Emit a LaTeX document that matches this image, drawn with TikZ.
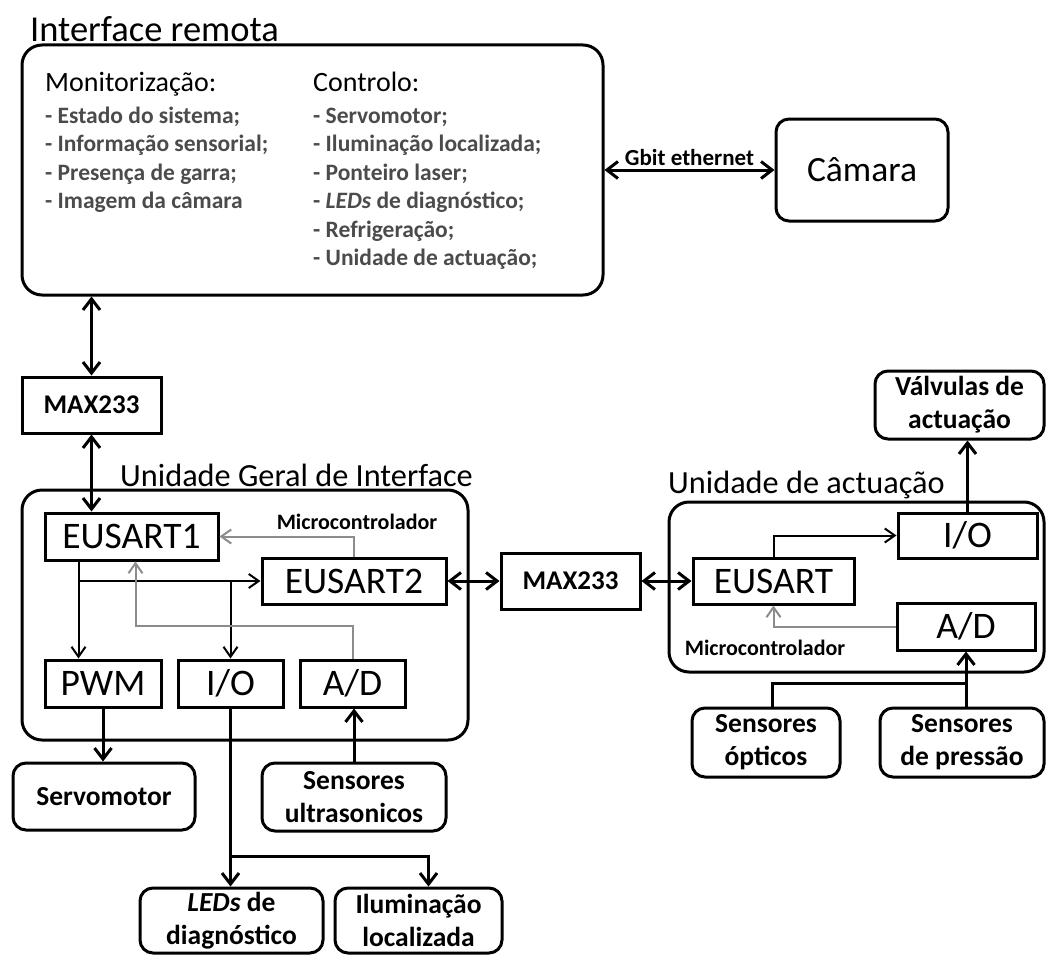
\documentclass[tikz,border=0pt]{standalone}
\usepackage{fontspec}
\setmainfont{Carlito}
\usetikzlibrary{arrows.meta,calc}
\definecolor{itemgray}{RGB}{75,75,75}
\definecolor{linkgray}{RGB}{140,140,140}
\newcommand\fsz[2]{\fontsize{#1}{#2}\selectfont}

\begin{document}
\begin{tikzpicture}[x=1pt,y=-1pt,
  outerbox/.style={draw, line width=3pt, rounded corners=20pt, inner sep=0pt},
  roundbox/.style={draw, line width=3pt, rounded corners=13pt, inner sep=0pt, align=center, font=\fsz{27.5}{33}\bfseries},
  unitbox/.style={draw, line width=3pt, inner sep=0pt, font=\fsz{37.5}{42}},
  chipbox/.style={draw, line width=3pt, inner sep=0pt, font=\fsz{27}{30}\bfseries},
  boxtitle/.style={inner sep=0pt, anchor=base west, font=\fsz{32.3}{38}},
  colhead/.style={inner sep=0pt, anchor=base west, font=\fsz{28}{34}},
  listitem/.style={inner sep=0pt, anchor=base west, text=itemgray, font=\fsz{23.5}{28}\bfseries},
  mcutext/.style={inner sep=0pt, anchor=base, font=\fsz{22}{25}\bfseries},
  bus/.style={line width=3pt, {Straight Barb[length=11pt,width=17pt]}-{Straight Barb[length=11pt,width=17pt]}},
  feedline/.style={line width=3pt, -{Straight Barb[length=11pt,width=17pt]}},
  plainline/.style={line width=3pt},
  sigline/.style={line width=2pt, -{Straight Barb[length=10pt,width=14pt]}},
  fbkline/.style={line width=2pt, draw=linkgray, -{Straight Barb[length=10pt,width=14pt]}},
]
\useasboundingbox (0,0) rectangle (1048,955);

% ---------------- remote interface ----------------
\node[outerbox, minimum width=581pt, minimum height=250pt] (remote) at (312.5,170) {};
\node[boxtitle, font=\fsz{36.5}{42}] (remotetitle) at (30,42) {Interface remota};
\node[colhead] (monhead) at (45,92) {Monitorização:};
\node[colhead] (ctlhead) at (313,92) {Controlo:};
\foreach \t [count=\i] in {{- Estado do sistema;},{- Informação sensorial;},{- Presença de garra;},{- Imagem da câmara}}
  \node[listitem] (mon\i) at (45,94.5+28.5*\i) {\t};
\foreach \t [count=\i] in {{- Servomotor;},{- Iluminação localizada;},{- Ponteiro laser;},{- \textit{LEDs} de diagnóstico;},{- Refrigeração;},{- Unidade de actuação;}}
  \node[listitem] (ctl\i) at (313,94.5+28.5*\i) {\t};

\node[roundbox, font=\fsz{35.5}{40}, minimum width=172pt, minimum height=102pt] (cam) at (862,170) {Câmara};
\draw[bus] (cam.west -| remote.east) -- node[above=3pt, inner sep=0pt, font=\fsz{23}{26}\bfseries] (gbit) {Gbit ethernet} (cam.west);

% ---------------- general interface unit ----------------
\node[chipbox, minimum width=139pt, minimum height=56pt] (maxA) at (91.5,405) {MAX233};
\node[outerbox, minimum width=446pt, minimum height=250pt] (ugi) at (245,615) {};
\node[boxtitle] (ugititle) at (120,486) {Unidade Geral de Interface};
\node[unitbox, minimum width=173pt, minimum height=47pt] (eus1) at (131.5,536.5) {EUSART1};
\node[unitbox, minimum width=184pt, minimum height=46pt] (eus2) at (354,581) {EUSART2};
\node[unitbox, minimum width=116pt, minimum height=47pt] (pwm) at (103,683.5) {PWM};
\node[unitbox, minimum width=105pt, minimum height=47pt] (io1) at (230.5,683.5) {I/O};
\node[unitbox, minimum width=105pt, minimum height=47pt] (ad1) at (352.5,683.5) {A/D};
\node[mcutext] (mcu1) at (357,529) {Microcontrolador};

\node[roundbox, minimum width=182pt, minimum height=67pt] (servo) at (104,796.5) {Servomotor};
\node[roundbox, minimum width=184pt, minimum height=68pt] (ultra) at (354,797) {Sensores\\ultrasonicos};
\node[roundbox, minimum width=183pt, minimum height=65pt] (leds) at (231.5,920.5) {\textit{LEDs} de\\diagnóstico};
\node[roundbox, minimum width=167pt, minimum height=65pt] (ilum) at (418.5,920.5) {Iluminação\\localizada};

\draw[bus] (maxA.north) -- (maxA.north |- remote.south);
\draw[bus] (maxA.south) -- (maxA.south |- eus1.north);

\coordinate (tap1) at ([xshift=35pt]eus1.south west);
\coordinate (ret1) at ([xshift=92pt]eus1.south west);
\draw[sigline] (tap1) -- (tap1 |- pwm.north);
\draw[sigline] (tap1 |- eus2.west) -- (eus2.west);
\draw[sigline] (io1.north |- eus2.west) -- (io1.north);
\draw[fbkline] (eus2.north) |- (eus1.east);
\draw[fbkline] (ad1.north) -- ++(0,-33) -| (ret1);

\draw[feedline] (pwm.south) -- (pwm.south |- servo.north);
\draw[feedline] (ultra.north) -- (ultra.north |- ad1.south);
\draw[feedline] (io1.south) -- (io1.south |- leds.north);
\coordinate (split) at (io1.south |- 0,856);
\draw[feedline] (split) -| ([xshift=95pt]ilum.north west);

% ---------------- link between the units ----------------
\node[chipbox, minimum width=139pt, minimum height=56pt] (maxB) at (570.5,581) {MAX233};

% ---------------- actuation unit ----------------
\node[outerbox, minimum width=375pt, minimum height=170pt] (ua) at (856.5,587) {};
\node[boxtitle] (uatitle) at (668,493) {Unidade de actuação};
\node[unitbox, minimum width=139pt, minimum height=45pt] (io2) at (967.5,535.5) {I/O};
\node[unitbox, minimum width=161pt, minimum height=46pt] (eus3) at (773.5,581) {EUSART};
\node[unitbox, minimum width=138pt, minimum height=47pt] (ad2) at (966,626.5) {A/D};
\node[mcutext] (mcu2) at (765,655) {Microcontrolador};

\node[roundbox, minimum width=169pt, minimum height=68pt] (valv) at (959.5,405) {Válvulas de\\actuação};
\node[roundbox, minimum width=148pt, minimum height=69pt] (opt) at (766,742.5) {Sensores\\ópticos};
\node[roundbox, minimum width=164pt, minimum height=69pt] (press) at (962,742.5) {Sensores\\de pressão};

\draw[bus] (eus2.east) -- (maxB.west);
\draw[bus] (maxB.east) -- (eus3.west);

\draw[sigline] (eus3.north) |- (io2.west);
\draw[fbkline] (ad2.west) -| (eus3.south);
\draw[feedline] (io2.north) -- (io2.north |- valv.south);
\draw[feedline] (ad2.south |- press.north) -- (ad2.south);
\coordinate (merge) at (ad2.south |- 0,683);
\draw[plainline] ([xshift=6pt]opt.north) |- (merge);
\end{tikzpicture}
\end{document}
